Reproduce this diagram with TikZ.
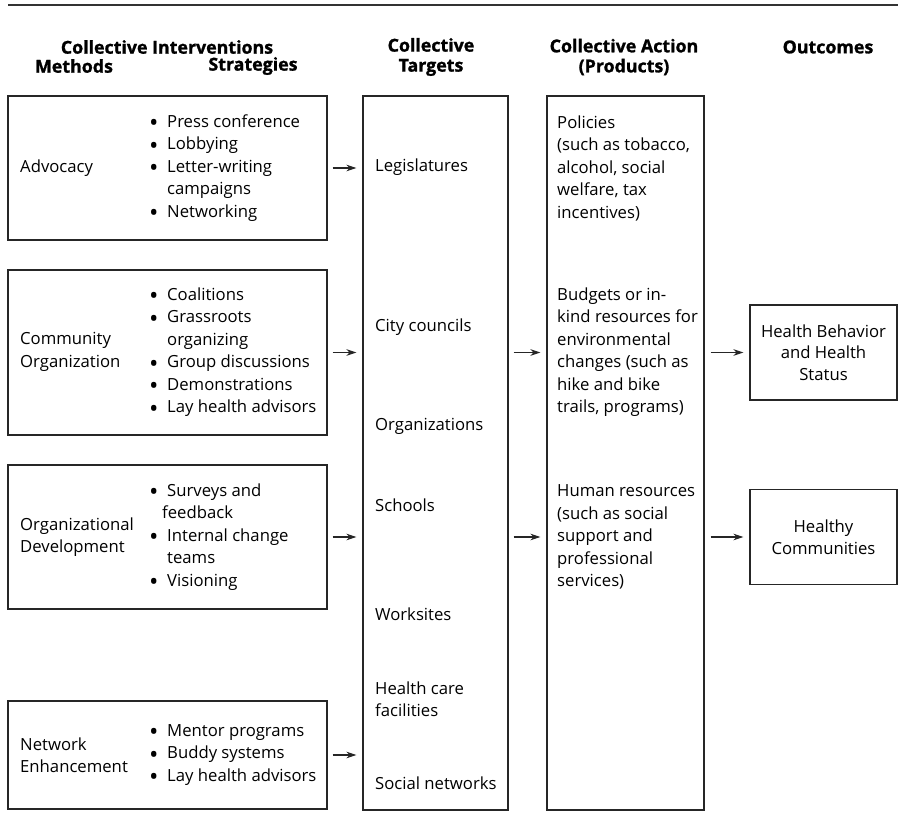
\documentclass[tikz,border=0pt]{standalone}
\usepackage{fontspec}
\setmainfont{Open Sans}
\newfontfamily\headfont{Open Sans}[BoldFeatures={FakeBold=1.2}]
\usetikzlibrary{arrows.meta}
% bullet item and continuation indent for strategy lists
\newcommand\blt{\makebox[18pt][l]{\smash{\raisebox{-0.27em}{\scalebox{1.5}{\textbullet}}}}}
\newcommand\bind{\hspace*{18pt}}
\begin{document}
\begin{tikzpicture}[x=1pt,y=-1pt,
  frame/.style={draw=black!85,line width=1.1pt,inner sep=0pt},
  txt/.style={inner sep=0pt,anchor=west,align=left,text=black,font=\fontsize{16.7}{22.5}\selectfont},
  ctxt/.style={inner sep=0pt,align=center,text=black,font=\fontsize{16.7}{21.5}\selectfont},
  head/.style={inner sep=0pt,align=center,text=black,font=\headfont\fontsize{17.8}{20}\selectfont\bfseries},
  arr/.style={-{Stealth[length=10pt,width=6.5pt,inset=3pt]},draw=black!85,line width=1.1pt,shorten <=5pt,shorten >=6pt}]
\useasboundingbox (0,0) rectangle (898,840);

% top rule
\coordinate (ruleL) at (8,5);
\coordinate (ruleR) at (898,5);
\draw[line width=1.5pt,black!80] (ruleL) -- (ruleR);

% column headings
\node[head] (hInt) at (167,47) {Collective Interventions};
\node[head] (hMeth) at (74,66) {Methods};
\node[head] (hStr) at (253,66) {Strategies};
\node[head] (hTgt) at (431,57) {Collective\\Targets};
\node[head] (hAct) at (624,57) {Collective Action\\(Products)};
\node[head] (hOut) at (828,47) {Outcomes};

% boxes
\node[frame,minimum width=319pt,minimum height=144pt] (adv) at (167.5,168) {};
\node[frame,minimum width=319pt,minimum height=165pt] (com) at (167.5,352.5) {};
\node[frame,minimum width=319pt,minimum height=144pt] (org) at (167.5,537) {};
\node[frame,minimum width=319pt,minimum height=108pt] (net) at (167.5,755) {};
\node[frame,minimum width=145pt,minimum height=714pt] (tgt) at (435.5,453) {};
\node[frame,minimum width=157pt,minimum height=714pt] (prod) at (625.5,453) {};
\node[frame,minimum width=147pt,minimum height=95pt] (hb) at (823.5,352.5) {};
\node[frame,minimum width=147pt,minimum height=95pt] (hc) at (823.5,537) {};

% methods
\node[txt] (mAdv) at (20,168) {Advocacy};
\node[txt] (mCom) at (20,352) {Community\\Organization};
\node[txt] (mOrg) at (20,537) {Organizational\\Development};
\node[txt] (mNet) at (20,755) {Network\\Enhancement};

% strategies
\node[txt] (sAdv) at (149,168) {\blt Press conference\\\blt Lobbying\\\blt Letter-writing\\\bind campaigns\\\blt Networking};
\node[txt] (sCom) at (149,352) {\blt Coalitions\\\blt Grassroots\\\bind organizing\\\blt Group discussions\\\blt Demonstrations\\\blt Lay health advisors};
\node[txt] (sOrg) at (149,537) {\blt Surveys and\\\hspace*{13pt}feedback\\\blt Internal change\\\bind teams\\\blt Visioning};
\node[txt] (sNet) at (149,755) {\blt Mentor programs\\\blt Buddy systems\\\blt Lay health advisors};

% targets
\node[txt] (t1) at (375,167) {Legislatures};
\node[txt] (t2) at (375,327) {City councils};
\node[txt] (t3) at (375,426) {Organizations};
\node[txt] (t4) at (375,505) {Schools};
\node[txt] (t5) at (375,614) {Worksites};
\node[txt] (t6) at (375,699) {Health care\\facilities};
\node[txt] (t7) at (375,783) {Social networks};

% products
\node[txt] (p1) at (557,168) {Policies\\(such as tobacco,\\alcohol, social\\welfare, tax\\incentives)};
\node[txt] (p2) at (557,352) {Budgets or in-\\kind resources for\\environmental\\changes (such as\\hike and bike\\trails, programs)};
\node[txt] (p3) at (557,537) {Human resources\\(such as social\\support and\\professional\\services)};

% outcomes
\node[ctxt] (o1) at (hb) {Health Behavior\\and Health\\Status};
\node[ctxt] (o2) at (hc) {Healthy\\Communities};

% connectors
\draw[arr] (adv.east) -- (adv.east -| tgt.west);
\draw[arr] (com.east) -- (com.east -| tgt.west);
\draw[arr] (org.east) -- (org.east -| tgt.west);
\draw[arr] (net.east) -- (net.east -| tgt.west);
\draw[arr] (com.east -| tgt.east) -- (com.east -| prod.west);
\draw[arr] (org.east -| tgt.east) -- (org.east -| prod.west);
\draw[arr,shorten <=6pt] (hb.west -| prod.east) -- (hb.west);
\draw[arr,shorten <=6pt] (hc.west -| prod.east) -- (hc.west);
\end{tikzpicture}
\end{document}
